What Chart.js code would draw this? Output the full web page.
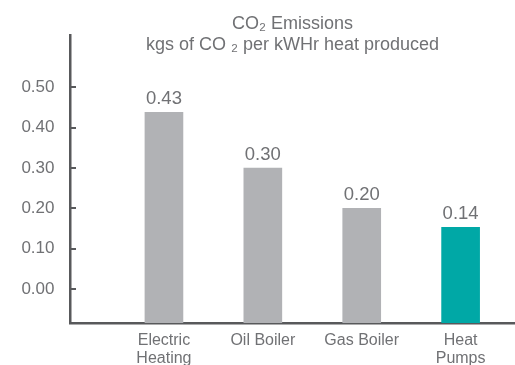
<!DOCTYPE html>
<html>
<head>
<meta charset="utf-8">
<script src="https://cdn.jsdelivr.net/npm/chart.js@4"></script>
<style>
  html, body { margin: 0; padding: 0; background: #fff; }
  #wrap { width: 515px; height: 365px; }
</style>
</head>
<body>
<div id="wrap"><canvas id="co2Chart"></canvas></div>
<script>
const categories = [['Electric', 'Heating'], 'Oil Boiler', 'Gas Boiler', ['Heat', 'Pumps']];
// bar heights as drawn vs the printed value labels
const barValues = [0.438, 0.30, 0.20, 0.153];
const valueLabels = ['0.43', '0.30', '0.20', '0.14'];
const yTicks = [0, 0.1, 0.2, 0.3, 0.4, 0.5];
const barColors = ['#b1b2b5', '#b1b2b5', '#b1b2b5', '#00a8a6'];

const axisColor = '#58595b';
const textColor = '#707174';
const fontFamily = '"Liberation Sans", Arial, sans-serif';
const yMin = -0.084;

const valueLabelPlugin = {
  id: 'valueLabels',
  afterDatasetsDraw(chart) {
    const ctx = chart.ctx;
    const meta = chart.getDatasetMeta(0);
    ctx.save();
    ctx.font = '18.5px ' + fontFamily;
    ctx.fillStyle = textColor;
    ctx.textAlign = 'center';
    ctx.textBaseline = 'middle';
    meta.data.forEach((bar, i) => {
      ctx.fillText(valueLabels[i], bar.x, bar.y - 13);
    });
    ctx.restore();
  }
};

// short tick marks pointing into the plot from the y axis
const innerTicksPlugin = {
  id: 'innerTicks',
  afterDraw(chart) {
    const ctx = chart.ctx;
    const y = chart.scales.y;
    const left = chart.chartArea.left;
    ctx.save();
    ctx.strokeStyle = axisColor;
    ctx.lineWidth = 2;
    yTicks.forEach(v => {
      const py = Math.round(y.getPixelForValue(v));
      ctx.beginPath();
      ctx.moveTo(left, py);
      ctx.lineTo(left + 6, py);
      ctx.stroke();
    });
    ctx.restore();
  }
};

new Chart(document.getElementById('co2Chart'), {
  type: 'bar',
  data: {
    datasets: [{
      data: categories.map((c, i) => ({ x: i, y: barValues[i] })),
      backgroundColor: barColors,
      base: yMin,
      barThickness: 38
    }]
  },
  options: {
    responsive: true,
    maintainAspectRatio: false,
    animation: false,
    layout: { padding: 0 },
    plugins: {
      legend: { display: false },
      tooltip: { enabled: false },
      title: {
        display: true,
        fullSize: false,
        text: ['CO\u2082 Emissions', 'kgs of CO \u2082 per kWHr heat produced'],
        color: textColor,
        font: { family: fontFamily, size: 18, weight: 'normal', lineHeight: 1.17 },
        padding: { top: 13.5, bottom: -20.5 }
      }
    },
    scales: {
      x: {
        type: 'linear',
        min: -0.95,
        max: 3.55,
        offset: false,
        afterBuildTicks: (scale) => { scale.ticks = categories.map((c, i) => ({ value: i })); },
        afterFit: (scale) => { scale.height = 42; },
        grid: { display: false, drawTicks: false },
        border: { display: true, color: axisColor, width: 2.5 },
        ticks: {
          color: textColor,
          padding: 8,
          maxRotation: 0,
          autoSkip: false,
          font: { family: fontFamily, size: 16, lineHeight: 1.15 },
          callback: (v) => categories[v]
        }
      },
      y: {
        min: yMin,
        max: 0.629,
        afterBuildTicks: (scale) => { scale.ticks = yTicks.map(v => ({ value: v })); },
        afterFit: (scale) => { scale.width = 70; },
        grid: { display: false, drawTicks: false },
        border: { display: true, color: axisColor, width: 2.5 },
        ticks: {
          color: textColor,
          padding: 15.5,
          font: { family: fontFamily, size: 17 },
          callback: (v) => Number(v).toFixed(2)
        }
      }
    }
  },
  plugins: [valueLabelPlugin, innerTicksPlugin]
});
</script>
</body>
</html>
